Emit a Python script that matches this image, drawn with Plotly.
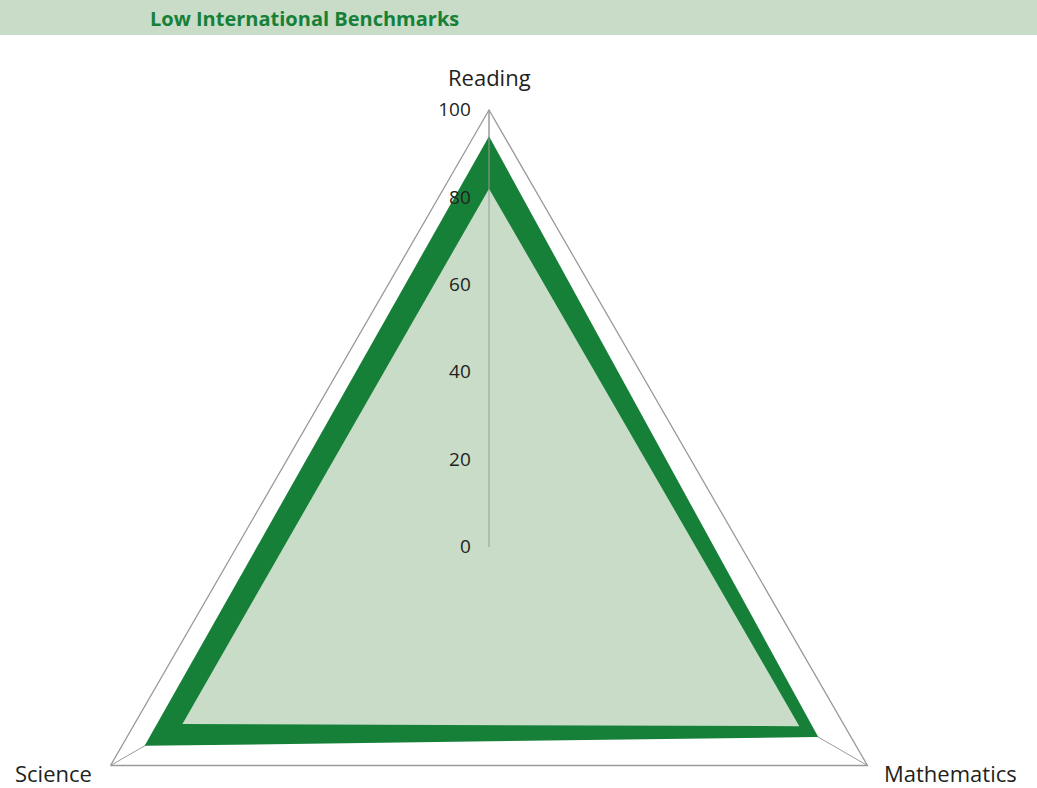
import plotly.graph_objects as go

categories = ['Reading', 'Mathematics', 'Science']
outer_values = [94, 87, 91]
inner_values = [82, 82, 81]
radial_ticks = [0, 20, 40, 60, 80, 100]

DARK_GREEN = '#168039'
LIGHT_GREEN = '#c8dcc8'
GRID = '#9a9a9a'
TEXT = '#231f20'

# the triangle needs a full circle of radius 437 px, so the page is taller than the window
W, H = 1037, 1000

def closed(vals):
    return vals + vals[:1]

def py(y_px):
    # pixel row from the top -> paper fraction
    return (H - y_px) / H

fig = go.Figure()

fig.add_trace(go.Scatterpolar(
    r=closed(outer_values),
    theta=closed(categories),
    fill='toself',
    fillcolor=DARK_GREEN,
    line=dict(color=DARK_GREEN, width=0),
    mode='lines',
    hoverinfo='skip',
    showlegend=False,
))
fig.add_trace(go.Scatterpolar(
    r=closed(inner_values),
    theta=closed(categories),
    fill='toself',
    fillcolor=LIGHT_GREEN,
    line=dict(color=LIGHT_GREEN, width=0),
    mode='lines',
    hoverinfo='skip',
    showlegend=False,
))

# category labels sit further out than plotly's angular tick labels would
label_pos = {
    'Reading': dict(x=489 / W, y=py(77), xanchor='center'),
    'Mathematics': dict(x=882 / W, y=py(773), xanchor='left'),
    'Science': dict(x=94 / W, y=py(773), xanchor='right'),
}
annotations = [dict(
    text='<b>Low International Benchmarks</b>',
    xref='paper', yref='paper',
    x=148 / W, y=py(18),
    xanchor='left', yanchor='middle',
    showarrow=False,
    font=dict(size=20, color=DARK_GREEN, family='Open Sans'),
)]
for cat in categories:
    annotations.append(dict(
        text=cat, xref='paper', yref='paper', yanchor='middle',
        showarrow=False, font=dict(size=22, color=TEXT, family='Open Sans'),
        **label_pos[cat],
    ))

fig.update_layout(
    width=W,
    height=H,
    margin=dict(l=0, r=0, t=0, b=0),
    paper_bgcolor='white',
    font=dict(family='Open Sans', color=TEXT),
    polar=dict(
        domain=dict(x=[52 / W, 926 / W], y=[py(984), py(110)]),
        gridshape='linear',
        bgcolor='rgba(0,0,0,0)',
        radialaxis=dict(
            range=[0, 100],
            tickvals=radial_ticks,
            angle=90,
            tickangle=90,
            side='counterclockwise',
            showline=True,
            linecolor=GRID,
            linewidth=1,
            showgrid=False,
            ticks='outside',
            ticklen=11,
            tickcolor='rgba(0,0,0,0)',
            tickfont=dict(size=19, color=TEXT),
        ),
        angularaxis=dict(
            type='category',
            categoryarray=categories,
            rotation=90,
            direction='clockwise',
            showline=True,
            linecolor=GRID,
            linewidth=1.3,
            showgrid=True,
            gridcolor=GRID,
            gridwidth=1,
            ticks='',
            showticklabels=False,
        ),
    ),
    shapes=[dict(
        type='rect', xref='paper', yref='paper',
        x0=0, x1=1, y0=py(35), y1=1,
        fillcolor=LIGHT_GREEN, line=dict(width=0), layer='below',
    )],
    annotations=annotations,
)

fig.write_html('out.html', config={'displayModeBar': False},
               post_script="document.body.style.margin='0px';")
